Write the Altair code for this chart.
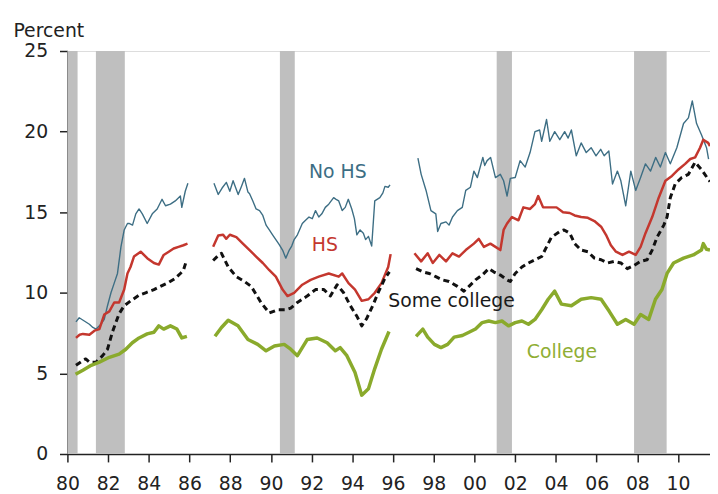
import altair as alt
import pandas as pd

FONT = "DejaVu Sans"

# Recession bands (decimal years)
REC_START = [1980.0, 1981.40, 1990.44, 2001.09, 2007.84]
REC_END = [1980.5, 1982.82, 1991.17, 2001.84, 2009.44]

# ---------------- No HS ----------------
NOHS_S1_X = [1980.42, 1980.58, 1980.83, 1981.08, 1981.25, 1981.41, 1981.65, 1981.81, 1981.97, 1982.14,
             1982.30, 1982.46, 1982.63, 1982.79, 1982.95, 1983.03, 1983.20, 1983.36, 1983.52, 1983.68,
             1983.92, 1984.17, 1984.41, 1984.65, 1984.82, 1985.06, 1985.30, 1985.55, 1985.62, 1985.79, 1985.92]
NOHS_S1_Y = [8.2, 8.45, 8.25, 8.05, 7.85, 7.75, 8.05, 8.35, 9.2, 10.0,
             10.6, 11.2, 12.85, 13.9, 14.3, 14.3, 14.2, 14.9, 15.2, 14.9,
             14.3, 14.9, 15.2, 15.8, 15.4, 15.5, 15.7, 16.0, 15.3, 16.3, 16.8]
NOHS_S2_X = [1987.20, 1987.41, 1987.60, 1987.81, 1987.98, 1988.14, 1988.39, 1988.55, 1988.70, 1988.87,
             1988.95, 1989.11, 1989.27, 1989.44, 1989.60, 1989.76, 1989.92, 1990.08, 1990.24, 1990.40,
             1990.57, 1990.73, 1990.90, 1991.02, 1991.14, 1991.30, 1991.54, 1991.70, 1991.87, 1992.03,
             1992.19, 1992.35, 1992.50, 1992.67, 1992.84, 1993.08, 1993.20, 1993.33, 1993.50, 1993.65,
             1993.80, 1993.97, 1994.10, 1994.22, 1994.38, 1994.54, 1994.65, 1994.79, 1994.95, 1995.10,
             1995.35, 1995.50, 1995.60, 1995.76, 1995.85]
NOHS_S2_Y = [16.8, 16.1, 16.5, 16.85, 16.3, 16.95, 16.1, 16.6, 17.1, 16.25,
             16.15, 15.7, 15.2, 15.1, 14.8, 14.2, 13.9, 13.6, 13.3, 13.0,
             12.65, 12.15, 12.65, 12.9, 13.3, 13.6, 14.3, 14.5, 14.7, 14.6,
             15.1, 14.7, 14.9, 15.3, 15.5, 15.9, 15.8, 15.7, 15.1, 15.3,
             15.8, 15.2, 14.6, 13.6, 13.9, 13.7, 13.3, 13.5, 12.9, 15.7,
             15.9, 16.2, 16.6, 16.55, 16.7]
NOHS_S3_X = [1997.22, 1997.38, 1997.62, 1997.86, 1998.10, 1998.19, 1998.35, 1998.60, 1998.75, 1998.92,
             1999.16, 1999.40, 1999.57, 1999.80, 1999.97, 2000.14, 2000.41, 2000.50, 2000.62, 2000.79,
             2001.03, 2001.27, 2001.43, 2001.60, 2001.76, 2002.00, 2002.24, 2002.49, 2002.73, 2002.97,
             2003.20, 2003.30, 2003.54, 2003.70, 2003.94, 2004.19, 2004.43, 2004.60, 2004.76, 2005.00,
             2005.24, 2005.49, 2005.73, 2005.97, 2006.20, 2006.37, 2006.60, 2006.78, 2007.02, 2007.19,
             2007.43, 2007.68, 2007.92, 2008.16, 2008.40, 2008.65, 2008.90, 2009.13, 2009.38, 2009.62,
             2009.94, 2010.27, 2010.51, 2010.70, 2010.91, 2011.15, 2011.40, 2011.50]
NOHS_S3_Y = [18.35, 17.35, 16.35, 15.1, 14.9, 13.8, 14.3, 14.4, 14.2, 14.7,
             15.1, 15.3, 16.35, 16.55, 17.55, 17.15, 18.4, 17.9, 18.2, 18.4,
             17.15, 17.35, 16.95, 16.0, 17.1, 17.15, 18.2, 17.8, 18.7, 20.0,
             20.1, 19.4, 20.75, 19.4, 20.0, 19.5, 20.0, 19.6, 20.1, 18.5,
             19.3, 18.7, 19.0, 18.5, 18.9, 18.5, 18.8, 16.75, 17.55, 16.95,
             15.4, 17.55, 16.35, 17.15, 18.0, 17.55, 18.4, 17.8, 18.7, 18.0,
             19.0, 20.5, 20.85, 21.9, 20.5, 19.8, 19.0, 18.3]

# ---------------- HS ----------------
HS_S1_X = [1980.42, 1980.60, 1980.76, 1981.08, 1981.33, 1981.57, 1981.81, 1982.06, 1982.30, 1982.54,
           1982.79, 1982.95, 1983.10, 1983.27, 1983.60, 1983.92, 1984.25, 1984.49, 1984.73, 1984.98,
           1985.22, 1985.46, 1985.70, 1985.90]
HS_S1_Y = [7.2, 7.4, 7.45, 7.4, 7.65, 7.75, 8.65, 8.85, 9.4, 9.4,
           10.2, 11.2, 11.6, 12.25, 12.55, 12.15, 11.85, 11.75, 12.35, 12.55,
           12.75, 12.85, 12.95, 13.05]
HS_S2_X = [1987.16, 1987.41, 1987.65, 1987.80, 1987.98, 1988.30, 1988.62, 1988.95, 1989.27, 1989.60,
           1989.92, 1990.24, 1990.57, 1990.81, 1991.14, 1991.54, 1991.95, 1992.35, 1992.84, 1993.33,
           1993.50, 1993.81, 1994.13, 1994.46, 1994.79, 1995.10, 1995.43, 1995.76, 1995.88]
HS_S2_Y = [12.85, 13.55, 13.6, 13.35, 13.6, 13.45, 13.05, 12.65, 12.25, 11.85,
           11.4, 11.0, 10.2, 9.8, 10.0, 10.5, 10.8, 11.0, 11.2, 11.0,
           11.2, 10.6, 10.2, 9.5, 9.6, 10.0, 10.6, 11.6, 12.4]
HS_S3_X = [1997.05, 1997.38, 1997.70, 1997.95, 1998.27, 1998.60, 1998.92, 1999.24, 1999.57, 1999.97,
           2000.21, 2000.46, 2000.78, 2001.03, 2001.27, 2001.43, 2001.60, 2001.84, 2002.16, 2002.40,
           2002.73, 2002.97, 2003.13, 2003.37, 2003.70, 2004.03, 2004.35, 2004.68, 2004.92, 2005.24,
           2005.57, 2005.89, 2006.22, 2006.46, 2006.70, 2006.95, 2007.27, 2007.59, 2007.92, 2008.16,
           2008.40, 2008.73, 2009.05, 2009.38, 2009.70, 2010.02, 2010.35, 2010.60, 2010.84, 2011.08,
           2011.24, 2011.48, 2011.57]
HS_S3_Y = [12.45, 11.95, 12.45, 11.85, 12.35, 11.95, 12.45, 12.25, 12.65, 13.05,
           13.35, 12.85, 13.05, 12.85, 12.65, 13.9, 14.3, 14.7, 14.5, 15.3,
           15.2, 15.5, 16.0, 15.3, 15.3, 15.3, 15.0, 14.95, 14.8, 14.7,
           14.65, 14.45, 14.1, 13.6, 12.95, 12.55, 12.35, 12.55, 12.35, 12.85,
           13.7, 14.7, 15.9, 16.95, 17.25, 17.65, 18.0, 18.3, 18.4, 19.0,
           19.5, 19.3, 19.1]

# ---------------- Some college ----------------
SC_S1_X = [1980.42, 1980.76, 1980.90, 1981.08, 1981.41, 1981.73, 1981.97, 1982.22, 1982.54, 1982.79,
           1983.11, 1983.52, 1983.84, 1984.25, 1984.65, 1984.98, 1985.30, 1985.55, 1985.70, 1985.85]
SC_S1_Y = [5.5, 5.8, 5.9, 5.7, 5.7, 6.1, 6.5, 7.6, 8.7, 9.2,
           9.5, 9.85, 10.0, 10.2, 10.45, 10.65, 10.9, 11.2, 11.4, 12.0]
SC_S2_X = [1987.16, 1987.40, 1987.57, 1987.90, 1988.30, 1988.70, 1989.03, 1989.51, 1989.92, 1990.33,
           1990.73, 1990.97, 1991.30, 1991.78, 1992.19, 1992.60, 1992.92, 1993.25, 1993.57, 1993.90,
           1994.22, 1994.46, 1994.70, 1995.00, 1995.30, 1995.60, 1995.82]
SC_S2_Y = [12.0, 12.3, 12.45, 11.6, 11.0, 10.7, 10.4, 9.4, 8.75, 8.95,
           8.95, 9.05, 9.4, 9.8, 10.2, 10.2, 9.8, 10.5, 10.0, 9.2,
           8.55, 7.95, 8.4, 9.2, 10.1, 10.9, 11.3]
SC_S3_X = [1997.13, 1997.46, 1997.78, 1998.10, 1998.43, 1998.75, 1999.16, 1999.48, 1999.73, 2000.05,
           2000.38, 2000.70, 2000.94, 2001.27, 2001.60, 2001.76, 2002.00, 2002.33, 2002.65, 2002.97,
           2003.30, 2003.54, 2003.78, 2004.19, 2004.40, 2004.68, 2004.92, 2005.24, 2005.57, 2005.89,
           2006.22, 2006.54, 2006.86, 2007.19, 2007.51, 2007.84, 2008.16, 2008.48, 2008.73, 2008.97,
           2009.30, 2009.46, 2009.62, 2009.86, 2010.18, 2010.51, 2010.84, 2011.15, 2011.48, 2011.57]
SC_S3_Y = [11.5, 11.3, 11.2, 11.0, 10.8, 10.7, 10.4, 10.1, 10.4, 10.8,
           11.1, 11.5, 11.3, 11.1, 10.8, 10.7, 11.2, 11.6, 11.85, 12.05,
           12.25, 12.85, 13.45, 13.8, 13.9, 13.7, 13.05, 12.65, 12.55, 12.15,
           12.05, 11.85, 11.95, 11.85, 11.5, 11.7, 11.95, 12.05, 12.65, 13.45,
           14.2, 14.7, 15.9, 16.75, 17.15, 17.35, 18.1, 17.65, 17.05, 16.9]

# ---------------- College ----------------
CO_S1_X = [1980.40, 1980.76, 1981.17, 1981.57, 1982.06, 1982.54, 1982.87, 1983.19, 1983.52, 1983.92,
           1984.25, 1984.49, 1984.73, 1985.06, 1985.38, 1985.62, 1985.87]
CO_S1_Y = [4.95, 5.2, 5.5, 5.7, 6.0, 6.2, 6.5, 6.9, 7.2, 7.45,
           7.55, 7.95, 7.75, 7.95, 7.75, 7.2, 7.3]
CO_S2_X = [1987.25, 1987.57, 1987.90, 1988.38, 1988.87, 1989.35, 1989.76, 1990.17, 1990.65, 1990.97,
           1991.30, 1991.78, 1992.27, 1992.76, 1993.16, 1993.40, 1993.73, 1994.13, 1994.46, 1994.79,
           1995.10, 1995.43, 1995.80]
CO_S2_Y = [7.3, 7.85, 8.3, 7.95, 7.1, 6.8, 6.4, 6.7, 6.8, 6.5,
           6.1, 7.1, 7.2, 6.9, 6.4, 6.6, 6.1, 5.05, 3.65, 4.05,
           5.3, 6.5, 7.6]
CO_S3_X = [1997.13, 1997.46, 1997.70, 1998.03, 1998.35, 1998.68, 1999.00, 1999.40, 1999.73, 2000.05,
           2000.38, 2000.70, 2001.03, 2001.35, 2001.67, 2002.00, 2002.33, 2002.65, 2002.97, 2003.30,
           2003.62, 2003.94, 2004.27, 2004.76, 2005.24, 2005.73, 2006.22, 2006.62, 2007.02, 2007.43,
           2007.84, 2008.16, 2008.56, 2008.89, 2009.21, 2009.46, 2009.78, 2010.27, 2010.75, 2011.15,
           2011.24, 2011.40, 2011.57]
CO_S3_Y = [7.3, 7.75, 7.25, 6.8, 6.6, 6.8, 7.25, 7.35, 7.55, 7.75,
           8.15, 8.25, 8.15, 8.25, 7.95, 8.15, 8.25, 8.05, 8.35, 8.95,
           9.6, 10.1, 9.3, 9.2, 9.6, 9.7, 9.6, 8.85, 8.05, 8.35,
           8.05, 8.65, 8.35, 9.6, 10.2, 11.2, 11.85, 12.15, 12.35, 12.65,
           13.05, 12.7, 12.65]

# Labels
LABELS = ["No HS", "HS", "Some college", "College"]
LABEL_X = [1991.87, 1992.01, 1995.76, 2002.57]
LABEL_Y = [17.5, 12.96, 9.46, 6.33]
LABEL_COLORS = ["#3d6e84", "#c4372e", "#1a1a1a", "#8fae34"]

X_TICKS = list(range(1980, 2011, 2))
Y_TICKS = [0, 5, 10, 15, 20, 25]


def series_df(segs):
    rows = []
    for i, (xs, ys) in enumerate(segs):
        for x, y in zip(xs, ys):
            rows.append({"seg": i, "year": x, "value": y})
    return pd.DataFrame(rows)


nohs = series_df([(NOHS_S1_X, NOHS_S1_Y), (NOHS_S2_X, NOHS_S2_Y), (NOHS_S3_X, NOHS_S3_Y)])
hs = series_df([(HS_S1_X, HS_S1_Y), (HS_S2_X, HS_S2_Y), (HS_S3_X, HS_S3_Y)])
sc = series_df([(SC_S1_X, SC_S1_Y), (SC_S2_X, SC_S2_Y), (SC_S3_X, SC_S3_Y)])
co = series_df([(CO_S1_X, CO_S1_Y), (CO_S2_X, CO_S2_Y), (CO_S3_X, CO_S3_Y)])
rec = pd.DataFrame({"start": REC_START, "end": REC_END, "lo": 0, "hi": 25})
labels = pd.DataFrame({"label": LABELS, "year": LABEL_X, "value": LABEL_Y, "color": LABEL_COLORS})

xscale = alt.Scale(domain=[1980, 2011.57], nice=False, zero=False)
yscale = alt.Scale(domain=[0, 25], nice=False, zero=True)

FS = 19

x_axis = alt.Axis(
    values=X_TICKS,
    labelExpr="(datum.value % 100) < 10 ? '0' + (datum.value % 100) : '' + (datum.value % 100)",
    tickSize=8, labelPadding=13, labelFontSize=FS, labelFont=FONT, labelColor="#222222",
    domainColor="#222222", tickColor="#222222", domainWidth=1.5, tickWidth=1.5,
    grid=False, title=None, labelFlush=False, labelOverlap=False,
)
y_axis = alt.Axis(
    values=Y_TICKS, tickSize=8, labelPadding=12, labelFontSize=FS, labelFont=FONT,
    labelColor="#222222", domainColor="#222222", tickColor="#222222",
    domainWidth=1.5, tickWidth=1.5, grid=False,
    title="Percent", titleAngle=0, titleAlign="left", titleBaseline="alphabetic",
    titleX=-55, titleY=-15, titleFont=FONT, titleFontSize=FS, titleFontWeight="normal",
    titleColor="#222222",
)

bands = alt.Chart(rec).mark_rect(color="#bfbfbf").encode(
    x=alt.X("start:Q", scale=xscale, axis=x_axis),
    x2="end:Q",
    y=alt.Y("lo:Q", scale=yscale, axis=y_axis),
    y2="hi:Q",
)


def line(df, color, width, dash=None):
    kw = dict(color=color, strokeWidth=width, clip=True, strokeJoin="round")
    if dash:
        kw["strokeDash"] = dash
        kw["strokeCap"] = "butt"
    return alt.Chart(df).mark_line(**kw).encode(
        x=alt.X("year:Q", scale=xscale),
        y=alt.Y("value:Q", scale=yscale),
        detail="seg:N",
        order="year:Q",
    )


l_co = line(co, "#8aaa2c", 3.5)
l_sc = line(sc, "#111111", 3, [6, 4])
l_hs = line(hs, "#c4372e", 2.5)
l_nohs = line(nohs, "#3d6e84", 1.4)

text = alt.Chart(labels).mark_text(align="left", baseline="middle", font=FONT, fontSize=FS).encode(
    x=alt.X("year:Q", scale=xscale),
    y=alt.Y("value:Q", scale=yscale),
    text="label:N",
    color=alt.Color("color:N", scale=None),
)

chart = alt.layer(bands, l_nohs, l_hs, l_sc, l_co, text).properties(
    width=649, height=407,
    autosize=alt.AutoSizeParams(type="none"),
    padding={"left": 60, "top": 41, "right": 0, "bottom": 42},
).configure_view(stroke=None).configure(background="white")

chart.save("out.html", embed_options={"renderer": "svg", "actions": False})
